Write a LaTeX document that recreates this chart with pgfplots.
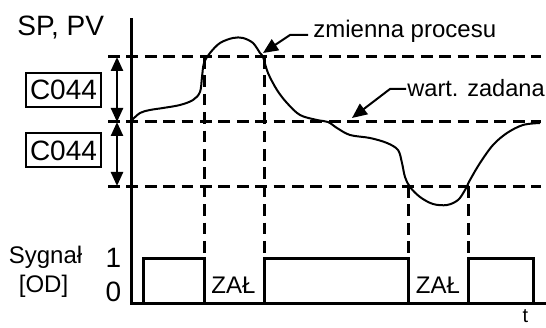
\documentclass[border=0pt]{standalone}
\usepackage{fontspec}
\setmainfont{Liberation Sans}
\usepackage{pgfplots}
\pgfplotsset{compat=1.18}
\usetikzlibrary{arrows.meta}
\begin{document}
\begin{tikzpicture}
\useasboundingbox (0,0) rectangle (273pt,163.5pt);
\begin{axis}[
  scale only axis, width=273pt, height=163.5pt,
  xmin=0, xmax=546, ymin=0, ymax=327, y dir=reverse,
  hide axis, clip=false,
]
% axes
\addplot[line width=1.5pt, black, line cap=rect] coordinates {(131,20) (131,303) (546,303)};
% dashed limits
\addplot[line width=1.5pt, black, dash pattern=on 5.85pt off 3.35pt] coordinates {(108,57) (541,57)};
\addplot[line width=1.5pt, black, dash pattern=on 5.85pt off 3.35pt] coordinates {(108,122) (541,122)};
\addplot[line width=1.5pt, black, dash pattern=on 5.85pt off 3.35pt] coordinates {(108,186) (541,186)};
\addplot[line width=1.5pt, black, dash pattern=on 5.85pt off 3.35pt] coordinates {(204,57) (204,255)};
\addplot[line width=1.5pt, black, dash pattern=on 5.85pt off 3.35pt] coordinates {(264,57) (264,255)};
\addplot[line width=1.5pt, black, dash pattern=on 5.85pt off 3.35pt] coordinates {(408,186) (408,255)};
\addplot[line width=1.5pt, black, dash pattern=on 5.85pt off 3.35pt] coordinates {(468,186) (468,255)};
% pulses
\addplot[line width=1.5pt, black] coordinates {(143,303) (143,258) (204,258) (204,303)};
\addplot[line width=1.5pt, black] coordinates {(264,303) (264,258) (408,258) (408,303)};
\addplot[line width=1.5pt, black] coordinates {(468,303) (468,258) (533,258) (533,303)};
% process variable curve
\addplot[line width=1pt, black, smooth, tension=0.55] coordinates {
(131,121) (140,113) (150,110) (163,108) (180,105) (193,100) (200,92) (202,77)
(204,63) (210,53) (220,43) (233,38) (243,38) (253,43) (260,53) (263,57)
(268,73) (277,90) (287,103) (300,115) (317,120) (328,122) (337,128) (350,135)
(370,138) (387,143) (398,150) (402,163) (405,177) (410,187) (420,197) (433,204)
(447,205) (458,200) (465,190) (470,180) (480,163) (493,145) (507,133) (523,125) (540,123)
};
% annotation arrows
\addplot[line width=1pt, black, -{Triangle[length=7.5pt,width=6.5pt]}] coordinates {(308,35) (290,35) (263,53)};
\addplot[line width=1pt, black, -{Triangle[length=7.5pt,width=6.5pt]}] coordinates {(406,89) (390,89) (352,118)};
% double arrows
\addplot[line width=1.2pt, black, {Triangle[length=7pt,width=6pt]}-{Triangle[length=7pt,width=6pt]}] coordinates {(117,57) (117,122)};
\addplot[line width=1.2pt, black, {Triangle[length=7pt,width=6pt]}-{Triangle[length=7pt,width=6pt]}] coordinates {(117,122) (117,186)};
% texts
\node[inner sep=0pt, anchor=base west, font=\fontsize{14}{16}\selectfont] at (axis cs:17,36) {SP, PV};
\node[inner sep=0pt, draw, line width=1pt, minimum width=37.5pt, minimum height=17pt, font=\fontsize{14}{16}\selectfont] at (axis cs:63.5,90) {C044};
\node[inner sep=0pt, draw, line width=1pt, minimum width=37.5pt, minimum height=17pt, font=\fontsize{14}{16}\selectfont] at (axis cs:63.5,150.5) {C044};
\node[inner sep=0pt, anchor=base west, font=\fontsize{12}{14}\selectfont] at (axis cs:313,38) {zmienna procesu};
\node[inner sep=0pt, anchor=base west, font=\fontsize{11.8}{14}\selectfont] at (axis cs:407,97) {wart. zadana};
\node[inner sep=0pt, anchor=base, font=\fontsize{12}{14}\selectfont] at (axis cs:45.5,263) {Sygnał};
\node[inner sep=0pt, anchor=base, font=\fontsize{12}{14}\selectfont] at (axis cs:43.5,292) {[OD]};
\node[inner sep=0pt, anchor=base, font=\fontsize{14}{16}\selectfont] at (axis cs:113.5,267) {1};
\node[inner sep=0pt, anchor=base, font=\fontsize{14}{16}\selectfont] at (axis cs:113.5,301.5) {0};
\node[inner sep=0pt, anchor=base, font=\fontsize{12}{14}\selectfont] at (axis cs:233.5,293) {ZAŁ};
\node[inner sep=0pt, anchor=base, font=\fontsize{12}{14}\selectfont] at (axis cs:438,293) {ZAŁ};
\node[inner sep=0pt, anchor=base, font=\fontsize{10}{12}\selectfont] at (axis cs:525.5,322) {t};
\end{axis}
\end{tikzpicture}
\end{document}
